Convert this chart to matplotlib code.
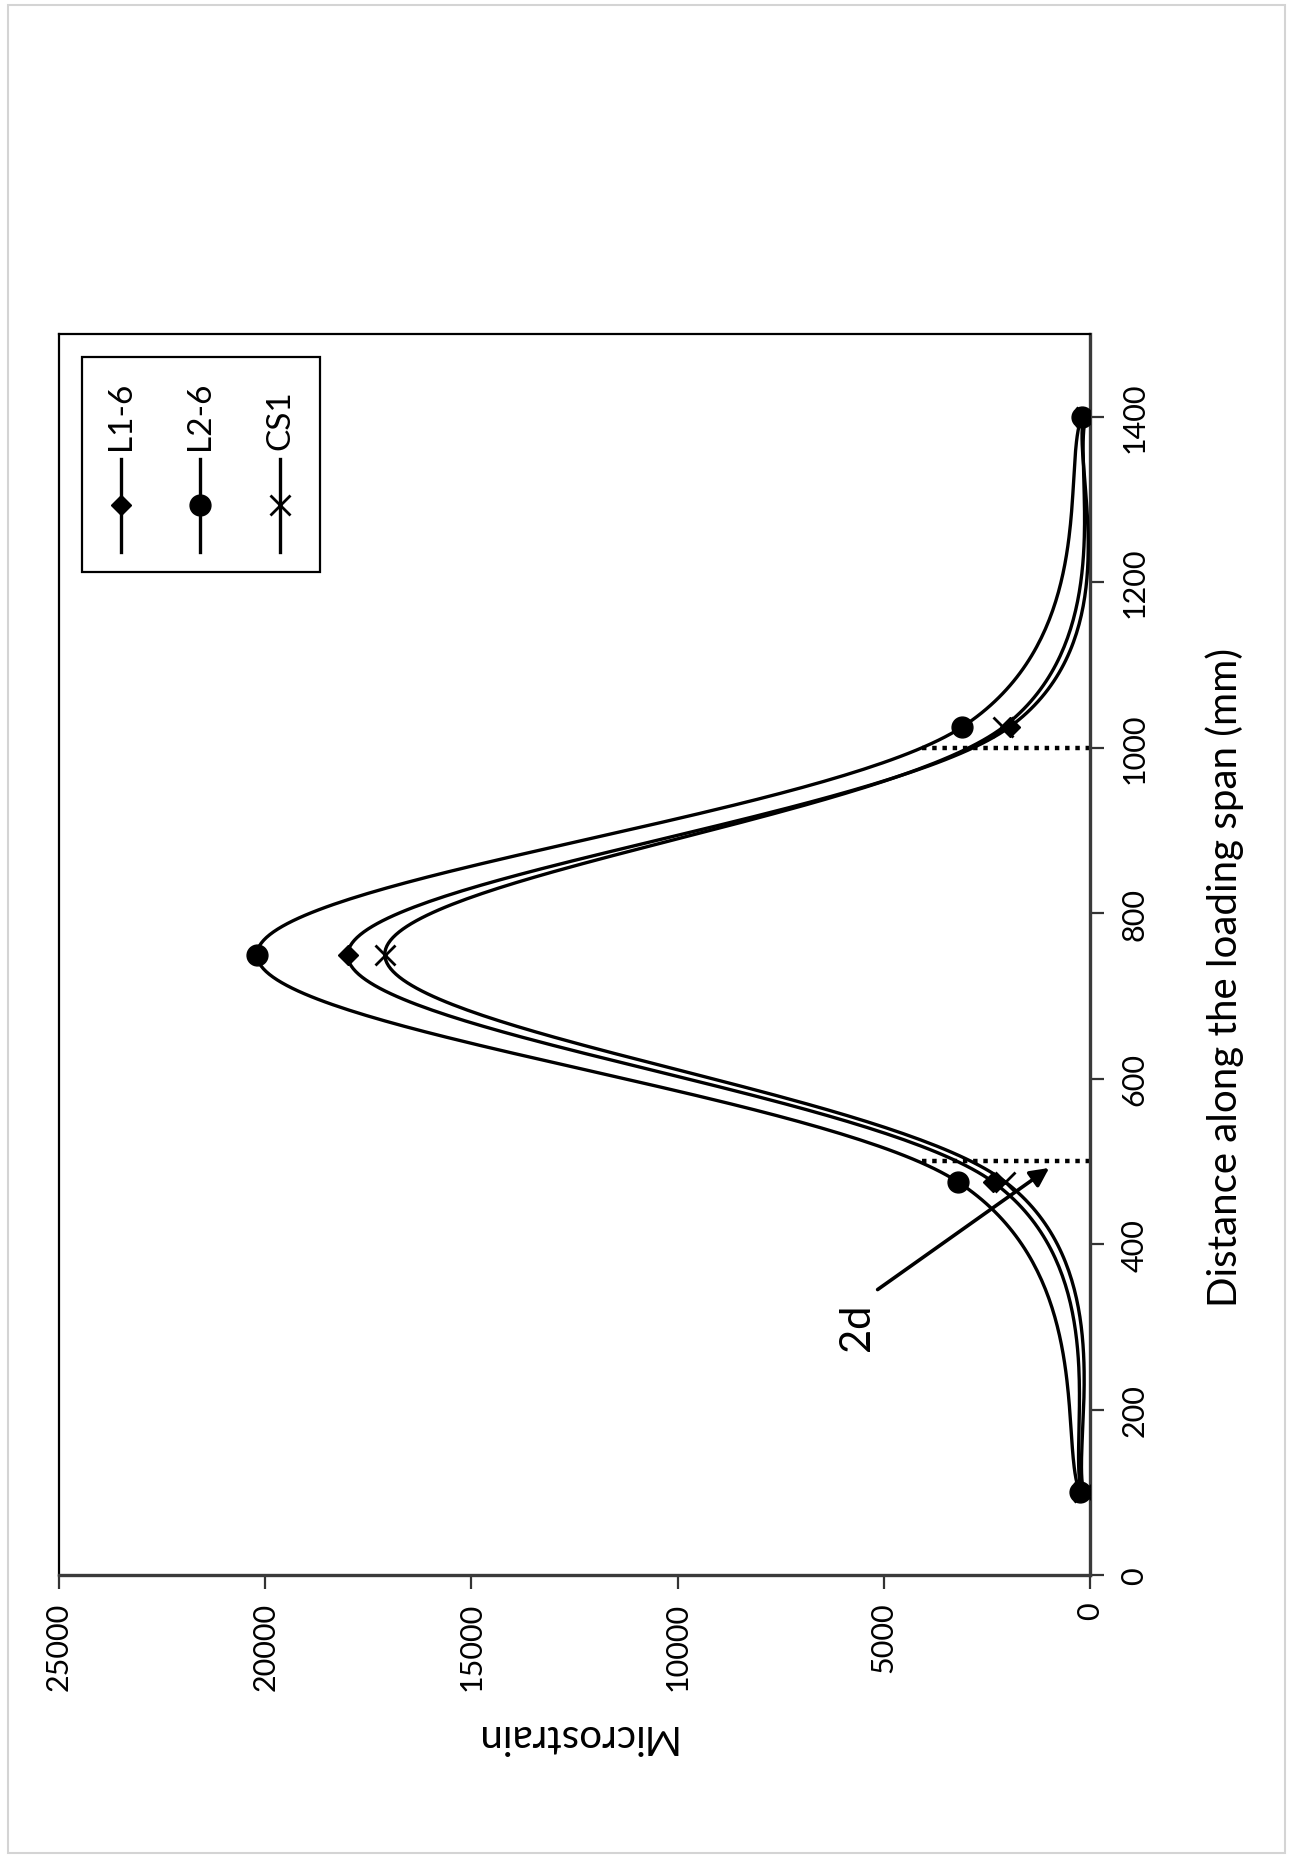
import numpy as np
import matplotlib
matplotlib.use("Agg")
import matplotlib.pyplot as plt
from matplotlib.patches import Rectangle
from matplotlib.lines import Line2D

plt.rcParams['font.family'] = ['Lato', 'DejaVu Sans']

# Strain gauge readings along the loading span
distance = [100, 475, 750, 1025, 1400]          # mm
series_names = ["L1-6", "L2-6", "CS1"]
strain_L1_6 = [200, 2350, 18000, 1950, 150]     # microstrain
strain_L2_6 = [250, 3200, 20200, 3100, 200]
strain_CS1 = [150, 2050, 17100, 2100, 100]

strain_ticks = [0, 5000, 10000, 15000, 20000, 25000]
distance_ticks = [0, 200, 400, 600, 800, 1000, 1200, 1400]
critical_sections = [500, 1000]                  # mm, 2d from the supports
critical_strain_extent = 4200


def smooth(x, y, n=80, tension=1 / 6):
    """Spreadsheet-style smoothed line: cubic Bezier segments with
    Catmull-Rom control points."""
    p = np.column_stack([x, y]).astype(float)
    ext = np.vstack([p[0], p, p[-1]])
    xs, ys = [], []
    t = np.linspace(0, 1, n)[:, None]
    for i in range(len(p) - 1):
        p0, p1, p2, p3 = ext[i], ext[i + 1], ext[i + 2], ext[i + 3]
        c1 = p1 + (p2 - p0) * tension
        c2 = p2 - (p3 - p1) * tension
        b = ((1 - t) ** 3) * p1 + 3 * ((1 - t) ** 2) * t * c1 \
            + 3 * (1 - t) * t ** 2 * c2 + t ** 3 * p2
        xs.append(b[:, 0])
        ys.append(b[:, 1])
    return np.concatenate(xs), np.concatenate(ys)


W, H = 1293, 1858
fig = plt.figure(figsize=(W / 100, H / 100), dpi=100)
fig.patch.set_facecolor('white')

# thin grey frame around the whole image
fig.add_artist(Rectangle((8 / W, 4 / H), (W - 16) / W, (H - 10) / H,
                         transform=fig.transFigure, fill=False,
                         edgecolor='#d4d4d4', linewidth=1.5))

left, right, top, bottom = 59, 1090, 335, 1576
ax = fig.add_axes([left / W, (H - bottom) / H, (right - left) / W, (bottom - top) / H])

styles = [
    dict(marker='D', markersize=10, markerfacecolor='black', markeredgecolor='black'),
    dict(marker='o', markersize=15, markerfacecolor='black', markeredgecolor='black'),
    dict(marker='x', markersize=15, markeredgewidth=2.0, markeredgecolor='black'),
]
all_series = [strain_L1_6, strain_L2_6, strain_CS1]

for vals, st in zip(all_series, styles):
    sx, sy = smooth(distance, vals)
    # strain runs horizontally, distance vertically
    ax.plot(sy, sx, color='black', linewidth=2.4, solid_capstyle='round', zorder=3)
    ax.plot(vals, distance, linestyle='none', zorder=4, **st)

# dotted lines marking the critical sections
for d in critical_sections:
    ax.plot([0, critical_strain_extent], [d, d], color='black',
            linestyle=(0, (1, 1.3)), linewidth=3.2, zorder=2)

# 2d annotation
ax.annotate('', xy=(990, 492), xytext=(5150, 345),
            arrowprops=dict(arrowstyle='-|>', color='black', lw=2.6,
                            mutation_scale=28, shrinkA=0, shrinkB=0), zorder=5)
ax.text(5650, 300, '2d', rotation=90, fontsize=30, ha='center', va='center')

ax.set_xlim(25000, 0)
ax.set_ylim(0, 1500)
ax.set_xticks(strain_ticks)
ax.set_xticklabels([str(v) for v in strain_ticks], rotation=90, fontsize=22)
ax.set_yticks(distance_ticks)
ax.yaxis.tick_right()
ax.yaxis.set_label_position('right')
ax.set_yticklabels([str(v) for v in distance_ticks], rotation=90, fontsize=22,
                   va='center')
ax.tick_params(axis='x', direction='out', length=10, width=1.6, pad=9, color='#333333')
ax.tick_params(axis='y', direction='out', length=10, width=1.6, pad=12, color='#333333')

ax.set_xlabel('Microstrain', rotation=180, fontsize=29, labelpad=20)
ax.set_ylabel('Distance along the loading span (mm)', rotation=90, fontsize=29)
ax.yaxis.set_label_coords(1.112, 0.482)

for side in ['top', 'left']:
    ax.spines[side].set_linewidth(1.6)
    ax.spines[side].set_color('black')
for side in ['bottom', 'right']:
    ax.spines[side].set_linewidth(2.4)
    ax.spines[side].set_color('#3a3a3a')

# legend drawn with vertical entries
lg_left, lg_right, lg_top, lg_bottom = 82, 320, 358, 573


def ax_frac(px, py):
    return (px - left) / (right - left), (bottom - py) / (bottom - top)


x0, y0 = ax_frac(lg_left, lg_bottom)
x1, y1 = ax_frac(lg_right, lg_top)
ax.add_patch(Rectangle((x0, y0), x1 - x0, y1 - y0, transform=ax.transAxes,
                       facecolor='white', edgecolor='black', linewidth=1.6, zorder=6))
entry_x = [121, 200, 280]
for name, st, ex in zip(series_names, styles, entry_x):
    fx, fy_lo = ax_frac(ex, 553)
    _, fy_hi = ax_frac(ex, 460)
    _, fy_mid = ax_frac(ex, 506)
    ax.add_line(Line2D([fx, fx], [fy_lo, fy_hi], transform=ax.transAxes,
                       color='black', linewidth=2.4, zorder=7))
    ax.add_line(Line2D([fx], [fy_mid], transform=ax.transAxes, linestyle='none',
                       zorder=8, **st))
    _, fy_txt = ax_frac(ex, 450)
    ax.text(fx, fy_txt, name, transform=ax.transAxes, rotation=90, fontsize=24,
            ha='center', va='bottom', zorder=8)

fig.savefig('out.png', dpi=100, facecolor='white')
